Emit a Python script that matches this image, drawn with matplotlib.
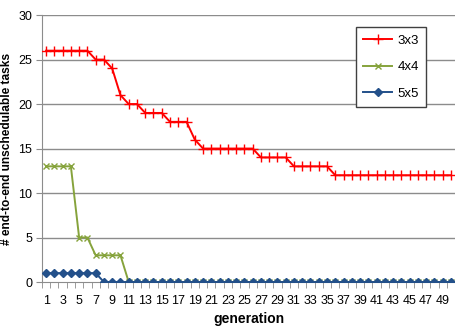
import matplotlib as mpl
mpl.use('Agg')
import matplotlib.pyplot as plt
import numpy as np

generations = list(range(1, 51))
s3x3 = [26] * 6 + [25, 25, 24, 21, 20, 20, 19, 19, 19, 18, 18, 18, 16] + [15] * 7 + [14] * 4 + [13] * 5 + [12] * 15
s4x4 = [13] * 4 + [5, 5] + [3] * 4 + [0] * 40
s5x5 = [1] * 7 + [0] * 43
xtick_labels = [str(g) for g in range(1, 51, 2)]

plt.rcParams['font.family'] = ['Liberation Sans', 'DejaVu Sans']

fig = plt.figure(figsize=(4.56, 3.32), dpi=100)
ax = fig.add_axes([0.092, 0.1506, 0.906, 0.804])

grid_col = '#8c8c8c'
for y in range(5, 31, 5):
    ax.axhline(y, color=grid_col, lw=1.0, zorder=0)

ax.plot(generations, s3x3, color='#ff0000', lw=1.4, marker='+', ms=7, mew=1.0, label='3x3', zorder=3)
ax.plot(generations, s4x4, color='#86a33c', lw=1.4, marker='x', ms=5, mew=1.0, label='4x4', zorder=3)
ax.plot(generations, s5x5, color='#23508a', lw=1.4, marker='D', ms=4.5, label='5x5', zorder=4)

ax.set_xlim(0.5, 50.5)
ax.set_ylim(0, 30)
ax.set_yticks(range(0, 31, 5))
ax.set_xticks(range(1, 51, 2))
ax.set_xticklabels(xtick_labels)
ax.set_xticks(np.arange(0.5, 51, 1), minor=True)
ax.tick_params(axis='x', which='major', length=0, labelsize=9, pad=9)
ax.tick_params(axis='x', which='minor', length=4, color=grid_col, direction='out')
ax.tick_params(axis='y', length=4, color=grid_col, labelsize=9, pad=3)

for side in ['top', 'right']:
    ax.spines[side].set_visible(False)
for side in ['left', 'bottom']:
    ax.spines[side].set_color(grid_col)

ax.set_xlabel('generation', fontweight='bold', fontsize=10, labelpad=4)
ax.set_ylabel('# end-to-end unschedulable tasks', fontweight='bold', fontsize=8.6, labelpad=4)

leg = ax.legend(loc='upper right', bbox_to_anchor=(0.93, 0.955), borderaxespad=0, fontsize=9.5,
                frameon=True, fancybox=False, edgecolor='#404040', framealpha=1, handlelength=2.2,
                labelspacing=1.1, borderpad=0.55, handletextpad=0.4)
leg.get_frame().set_linewidth(1.0)

plt.savefig('out.png', dpi=100)
